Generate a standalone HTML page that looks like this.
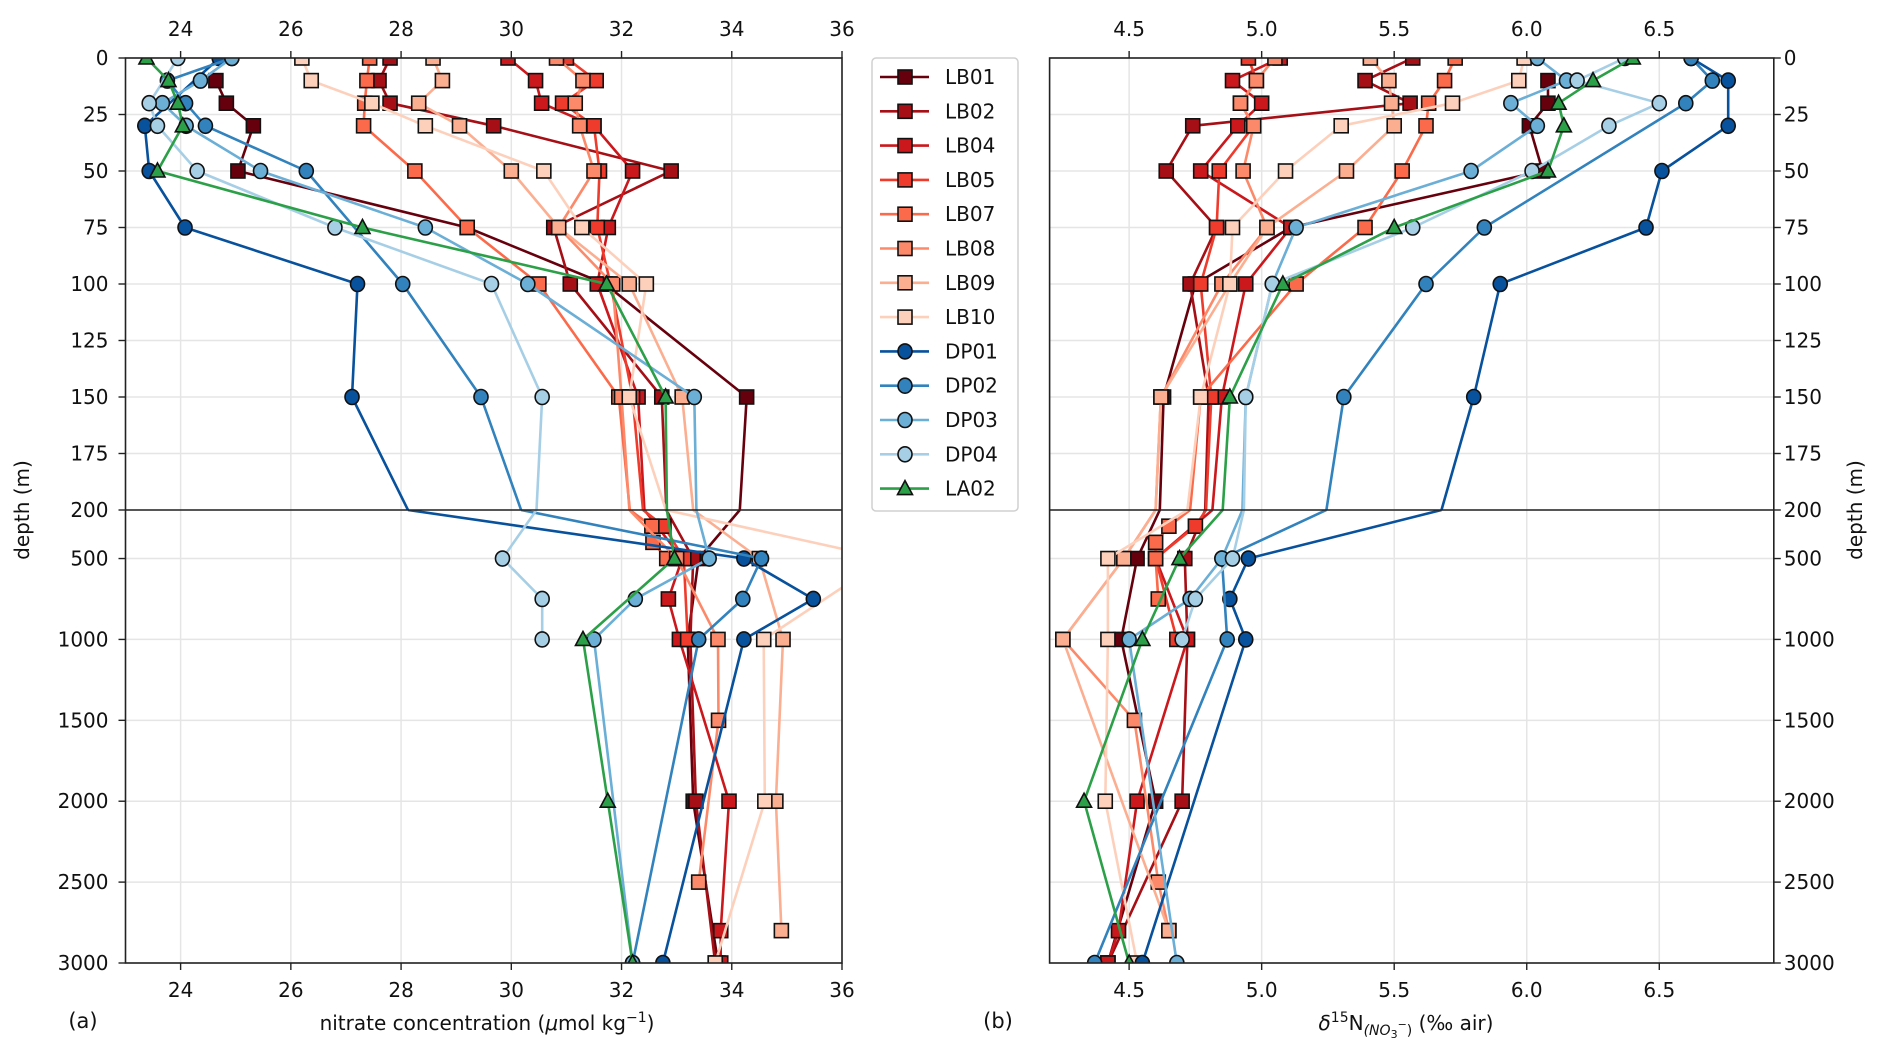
<!DOCTYPE html>
<html><head><meta charset="utf-8"><style>
html,body{margin:0;padding:0;background:#fff;width:1892px;height:1060px;overflow:hidden}
svg{display:block;font-family:"DejaVu Sans","Liberation Sans",sans-serif}
</style></head><body>
<svg id="chart" width="1892" height="1060" viewBox="0 0 1892 1060">
<text x="29" y="510" transform="rotate(-90 29 510)" text-anchor="middle" font-size="20" fill="#111">depth (m)</text>
<text x="1862" y="510" transform="rotate(-90 1862 510)" text-anchor="middle" font-size="20" fill="#111">depth (m)</text>
<text x="83" y="1028" text-anchor="middle" font-size="21" fill="#111">(a)</text>
<text x="998" y="1028" text-anchor="middle" font-size="21" fill="#111">(b)</text>
<text x="487" y="1030" text-anchor="middle" font-size="20" fill="#111">nitrate concentration (<tspan font-style="italic">μ</tspan>mol kg<tspan dy="-8" font-size="14">−1</tspan><tspan dy="8">)</tspan></text>
<text x="1406" y="1030" text-anchor="middle" font-size="20" fill="#111"><tspan font-style="italic">δ</tspan><tspan dy="-8" font-size="14">15</tspan><tspan dy="8">N</tspan><tspan dy="5" font-size="14" font-style="italic">(NO</tspan><tspan font-size="11" dy="3">3</tspan><tspan font-size="11" dy="-10">−</tspan><tspan font-size="14" dy="7">)</tspan><tspan dy="-5"> (‰ air)</tspan></text>
</svg>
<script>
const depthLevels=[0,10,20,30,50,75,100,150,300,400,500,750,1000,1500,2000,2500,2800,3000];
const seriesNames=["LB01","LB02","LB04","LB05","LB07","LB08","LB09","LB10","DP01","DP02","DP03","DP04","LA02"];
const nitrateLB01=[null,24.64,24.83,25.32,25.04,29.2,31.7,34.27,null,null,33.4,null,33.2,null,33.3,null,null,33.75];
const nitrateLB02=[27.8,27.6,27.8,29.68,32.9,30.77,31.07,32.73,null,null,33.3,null,33.25,null,33.35,null,null,33.7];
const nitrateLB04=[29.94,30.44,30.55,31.5,32.2,31.76,31.56,32.3,null,null,33.1,32.85,33.05,null,33.95,null,33.8,33.8];
const nitrateLB05=[31.0,31.54,30.93,31.5,31.6,31.56,31.8,32.2,32.77,null,33.13,null,33.2,null,null,null,null,null];
const nitrateLB07=[27.43,27.38,27.34,27.32,28.25,29.2,30.5,31.95,32.55,32.57,32.82,null,null,null,null,null,null,null];
const nitrateLB08=[30.82,31.3,31.16,31.24,31.5,30.86,31.84,32.0,null,null,33.0,null,33.75,33.76,null,33.4,null,null];
const nitrateLB09=[28.58,28.75,28.32,29.06,30.0,30.86,32.14,33.1,null,null,34.5,null,34.93,null,34.8,null,34.9,null];
const nitrateLB10=[26.2,26.37,27.47,28.44,30.59,31.28,32.45,32.14,null,null,36.8,null,34.58,null,34.6,null,null,33.7];
const nitrateDP01=[24.7,null,null,23.35,23.43,24.08,27.21,27.11,null,null,34.22,35.48,34.22,null,null,null,null,32.75];
const nitrateDP02=[24.93,23.76,24.09,24.45,26.28,null,28.03,29.45,null,null,34.54,34.2,33.4,null,null,null,null,32.2];
const nitrateDP03=[24.93,24.36,23.67,24.1,25.45,28.44,30.3,33.32,null,null,33.59,32.25,31.5,null,null,null,null,32.2];
const nitrateDP04=[23.95,null,23.43,23.58,24.3,26.8,29.64,30.56,null,null,29.84,30.56,30.56,null,null,null,null,null];
const nitrateLA02=[23.38,23.78,23.95,24.04,23.58,27.3,31.73,32.8,null,null,32.96,null,31.3,null,31.75,null,null,32.2];
const d15nLB01=[null,6.08,6.08,6.01,6.06,5.11,4.75,4.63,null,null,4.53,null,4.47,null,4.6,null,null,4.42];
const d15nLB02=[5.57,5.39,5.56,4.74,4.64,4.83,4.73,4.8,null,null,4.71,null,4.72,null,4.7,null,null,4.42];
const d15nLB04=[5.07,4.89,5.0,4.91,4.77,5.11,4.94,4.85,null,null,4.6,null,4.72,null,4.53,null,4.46,4.42];
const d15nLB05=[4.95,4.98,4.92,4.97,4.84,4.83,4.77,4.81,4.75,null,4.6,null,4.68,null,null,null,null,null];
const d15nLB07=[5.73,5.69,5.63,5.62,5.53,5.39,5.13,4.77,4.65,4.6,4.6,4.61,null,null,null,null,null,null];
const d15nLB08=[5.05,4.98,4.92,4.97,4.93,5.02,4.85,4.62,null,null,4.48,null,4.25,4.52,null,4.61,4.65,null];
const d15nLB09=[5.41,5.48,5.49,5.5,5.32,5.02,4.88,4.62,null,null,4.48,null,4.25,null,null,null,4.65,null];
const d15nLB10=[5.99,5.97,5.72,5.3,5.09,4.89,4.88,4.77,null,null,4.42,null,4.42,null,4.41,null,null,4.53];
const d15nDP01=[6.62,6.76,null,6.76,6.51,6.45,5.9,5.8,null,null,4.95,4.88,4.94,null,null,null,null,4.55];
const d15nDP02=[6.62,6.7,6.6,null,null,5.84,5.62,5.31,null,null,4.85,null,4.87,null,null,null,null,4.37];
const d15nDP03=[6.04,6.15,5.94,6.04,5.79,5.13,5.04,4.94,null,null,4.85,4.73,4.5,null,null,null,null,4.68];
const d15nDP04=[6.37,6.19,6.5,6.31,6.02,5.57,5.04,4.94,null,null,4.89,4.75,4.7,null,null,null,null,null];
const d15nLA02=[6.40,6.25,6.12,6.14,6.08,5.5,5.08,4.88,null,null,4.69,null,4.55,null,4.33,null,null,4.5];
const nitrateTicks=[24,26,28,30,32,34,36];
const d15nTicks=[4.5,5.0,5.5,6.0,6.5];
const upperDepthTicks=[0,25,50,75,100,125,150,175,200];
const lowerDepthTicks=[500,1000,1500,2000,2500,3000];

const nitrateSeries=[nitrateLB01,nitrateLB02,nitrateLB04,nitrateLB05,nitrateLB07,nitrateLB08,nitrateLB09,nitrateLB10,nitrateDP01,nitrateDP02,nitrateDP03,nitrateDP04,nitrateLA02];
const d15nSeries=[d15nLB01,d15nLB02,d15nLB04,d15nLB05,d15nLB07,d15nLB08,d15nLB09,d15nLB10,d15nDP01,d15nDP02,d15nDP03,d15nDP04,d15nLA02];
const colors=["#67000d","#a50f15","#cb181d","#ef3b2c","#fb6a4a","#fc8a6a","#fcae91","#fdd0bc","#08519c","#3182bd","#6baed6","#a6cfe6","#2ca048"];
const shapes=["s","s","s","s","s","s","s","s","o","o","o","o","^"];

const NS="http://www.w3.org/2000/svg";
const svg=document.getElementById('chart');
function mk(tag,attrs,parent){const e=document.createElementNS(NS,tag);for(const k in attrs)e.setAttribute(k,attrs[k]);(parent||svg).appendChild(e);return e;}
const Y0=58,YB=510,Y1=963,BREAK=200;
function yUp(d){return Y0+(d/200)*(YB-Y0);}
function yLo(d){return YB+((d-200)/2800)*(Y1-YB);}
function drawMarker(parent,s,x,y,c){
  const a={fill:c,stroke:'#111','stroke-width':1.6};
  if(s==='s')mk('rect',Object.assign({x:x-7,y:y-7,width:14,height:14},a),parent);
  else if(s==='o')mk('ellipse',Object.assign({cx:x,cy:y,rx:7,ry:7.5},a),parent);
  else mk('polygon',Object.assign({points:`${x},${y-8} ${x+7.5},${y+6} ${x-7.5},${y+6}`},a),parent);
}
// split a (depth,value) list into segment within upper or lower part, with crossing point at BREAK
function segmentPoints(list,part){
  const out=[];
  for(let i=0;i<list.length;i++){
    const [d,v]=list[i];
    const inside=part==='u'?d<=BREAK:d>=BREAK;
    if(i>0){
      const [pd,pv]=list[i-1];
      const pin=part==='u'?pd<=BREAK:pd>=BREAK;
      if(pin!==inside && pd!==BREAK && d!==BREAK){
        const t=(BREAK-pd)/(d-pd);
        out.push([BREAK,pv+t*(v-pv)]);
      }
    }
    if(inside)out.push([d,v]);
  }
  return out;
}
const panels=[
 {x0:125.5,x1:842,min:23,max:36,ticks:nitrateTicks,data:nitrateSeries,fmt:v=>String(v),side:"left",name:"nitrate"},
 {x0:1049.6,x1:1773.8,min:4.2,max:6.932,ticks:d15nTicks,data:d15nSeries,fmt:v=>v.toFixed(1),side:"right",name:"d15n"}
];
let defs=mk('defs',{});
panels.forEach((p,pi)=>{
  const xs=v=>p.x0+(v-p.min)/(p.max-p.min)*(p.x1-p.x0);
  const g=mk('g',{});
  
  
  const cu=mk('clipPath',{id:'cu'+pi},defs);mk('rect',{x:p.x0,y:Y0,width:p.x1-p.x0,height:YB-Y0},cu);
  const cl=mk('clipPath',{id:'cl'+pi},defs);mk('rect',{x:p.x0,y:YB,width:p.x1-p.x0,height:Y1-YB},cl);
  p.ticks.forEach(t=>{const gl=mk('line',{x1:xs(t),x2:xs(t),y1:Y0,y2:Y1,stroke:'#e5e5e5','stroke-width':1.5},g);
    
    });
  upperDepthTicks.forEach(t=>{mk('line',{x1:p.x0,x2:p.x1,y1:yUp(t),y2:yUp(t),stroke:'#e5e5e5','stroke-width':1.5},g);});
  lowerDepthTicks.forEach(t=>{mk('line',{x1:p.x0,x2:p.x1,y1:yLo(t),y2:yLo(t),stroke:'#e5e5e5','stroke-width':1.5},g);});
  ['u','l'].forEach(part=>{
    const cg=mk('g',{'clip-path':'url(#c'+part+pi+')'},g);
    const ym=part==='u'?yUp:yLo;
    p.data.forEach((arr,si)=>{
      const sg=mk('g',{},cg);
      
      
      const list=[];
      arr.forEach((v,i)=>{if(v!==null)list.push([depthLevels[i],v]);});
      const seg=segmentPoints(list,part);
      if(seg.length>1)
        mk('polyline',{points:seg.map(q=>xs(q[1]).toFixed(1)+','+ym(q[0]).toFixed(1)).join(' '),fill:'none',stroke:colors[si],'stroke-width':2.6,'stroke-linejoin':'round'},sg);
      list.forEach(q=>{
        const inside=part==='u'?q[0]<BREAK:q[0]>BREAK;
        if(inside)drawMarker(sg,shapes[si],xs(q[1]),ym(q[0]),colors[si]);
      });
    });
  });
  mk('rect',{x:p.x0,y:Y0,width:p.x1-p.x0,height:Y1-Y0,fill:'none',stroke:'#222','stroke-width':1.6},g);
  mk('line',{x1:p.x0,x2:p.x1,y1:YB,y2:YB,stroke:'#222','stroke-width':1.6},g);
  p.ticks.forEach(t=>{
    const x=xs(t);
    mk('line',{x1:x,x2:x,y1:Y0,y2:Y0-7,stroke:'#222','stroke-width':1.4},g);
    mk('line',{x1:x,x2:x,y1:Y1,y2:Y1+7,stroke:'#222','stroke-width':1.4},g);
    const tt=mk('text',{x:x,y:36,'text-anchor':'middle','font-size':20,fill:'#111'},g);tt.textContent=p.fmt(t);
    
    
    const tb=mk('text',{x:x,y:997,'text-anchor':'middle','font-size':20,fill:'#111'},g);tb.textContent=p.fmt(t);
    
    
  });
  const ax=p.side==='left'?p.x0:p.x1, dir=p.side==='left'?-1:1;
  const yt=(d,y)=>{mk('line',{x1:ax,x2:ax+dir*7,y1:y,y2:y,stroke:'#222','stroke-width':1.4},g);
    const t=mk('text',{x:ax+dir*(p.side==='left'?17:10),y:y+7,'text-anchor':p.side==='left'?'end':'start','font-size':20,fill:'#111'},g);t.textContent=d;
    
    };
  upperDepthTicks.forEach(d=>yt(d,yUp(d)));
  lowerDepthTicks.forEach(d=>yt(d,yLo(d)));
});
const lg=mk('g',{});


mk('rect',{x:872,y:58,width:146,height:453,rx:4,fill:'#fff',stroke:'#d0d0d0','stroke-width':1.5},lg);
seriesNames.forEach((n,i)=>{
  const y=77+i*34.3;
  const eg=mk('g',{},lg);
  
  
  mk('line',{x1:880,x2:929,y1:y,y2:y,stroke:colors[i],'stroke-width':2.6},eg);
  drawMarker(eg,shapes[i],905,y,colors[i]);
  const t=mk('text',{x:945,y:y+7,'font-size':20,fill:'#111'},eg);t.textContent=n;
});
</script>
</body></html>
